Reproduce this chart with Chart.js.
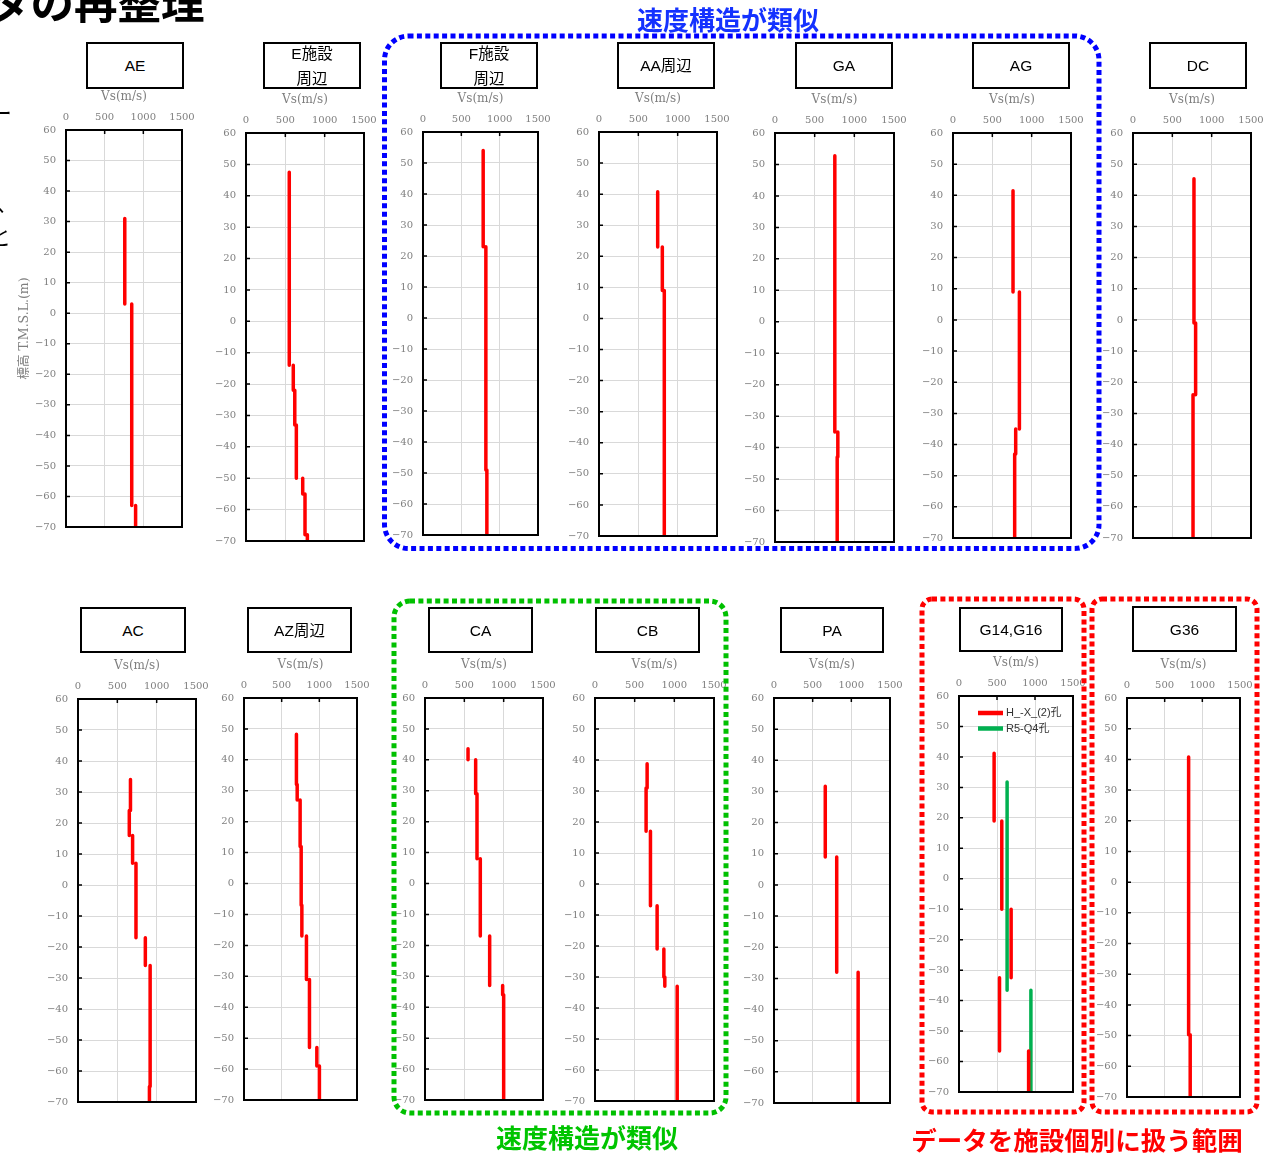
<!DOCTYPE html>
<html><head><meta charset="utf-8">
<script src="https://cdn.jsdelivr.net/npm/chart.js@4"></script>
<style>
html,body{margin:0;padding:0;background:#fff;}
body{width:1274px;height:1154px;overflow:hidden;position:relative;font-family:"Liberation Sans",Arial,"Noto Sans CJK JP",sans-serif;}
canvas{position:absolute;}
.box{position:absolute;border:2.5px solid #000;box-sizing:border-box;background:#fff;display:flex;flex-direction:column;align-items:center;justify-content:center;font-size:15.5px;color:#000;line-height:25px;z-index:2;}
.note{position:absolute;font-family:"Noto Sans CJK JP",sans-serif;font-weight:700;white-space:nowrap;line-height:1;z-index:3;}
svg{position:absolute;left:0;top:0;z-index:1;pointer-events:none;}
</style></head>
<body>
<div class="note" style="left:-100px;top:-21px;font-size:43.5px;color:#000;">データの再整理</div>
<div class="note" style="left:-12px;top:100px;font-size:24px;color:#000;font-weight:400;">ー</div>
<div class="note" style="left:-4px;top:190px;font-size:22px;color:#000;font-weight:400;">、</div>
<div class="note" style="left:-11px;top:224px;font-size:22px;color:#000;font-weight:400;">と</div>
<div class="note" style="left:628px;top:6px;width:200px;text-align:center;font-size:26px;color:#1432ff;">速度構造が類似</div>
<div class="note" style="left:487px;top:1124px;width:200px;text-align:center;font-size:26px;color:#00c400;">速度構造が類似</div>
<div class="note" style="left:902px;top:1126px;width:350px;text-align:center;font-size:25.5px;color:#ff0000;">データを施設個別に扱う範囲</div>
<svg width="1274" height="1154">
<rect x="384.5" y="36" width="714.5" height="512.5" rx="24" fill="none" stroke="#0000ff" stroke-width="5" stroke-dasharray="5 3.4"/>
<rect x="394" y="601" width="332" height="512" rx="16" fill="none" stroke="#00c000" stroke-width="5" stroke-dasharray="5 3.4"/>
<rect x="922" y="599" width="162" height="513" rx="10" fill="none" stroke="#ff0000" stroke-width="5" stroke-dasharray="5 3.4"/>
<rect x="1092" y="599" width="165" height="513" rx="10" fill="none" stroke="#ff0000" stroke-width="5" stroke-dasharray="5 3.4"/>
</svg>
<script>
// ---- tick labels ----
const xTickValues = [0, 500, 1000, 1500];
const yTickValues = [60, 50, 40, 30, 20, 10, 0, -10, -20, -30, -40, -50, -60, -70];

// ---- profiles: layer boundary elevations (m) and Vs of each layer (m/s) ----
const AE_elev = [31, 3, -63, -70];
const AE_vs   = [760, 850, 900];

const E_elev = [47.5, -14, -22, -33, -50, -55, -68, -70];
const E_vs   = [550, 601, 620, 640, 721, 750, 780];

const F_elev = [54, 23, -49, -70];
const F_vs   = [785, 820, 833];

const AA_elev = [40.8, 23, 9, -70];
const AA_vs   = [746, 805, 830];

const GA_elev = [52.8, -35, -43, -70];
const GA_vs   = [754, 792, 784];

const AG_elev = [41.5, 9, -35, -43, -70];
const AG_vs   = [763, 844, 797, 784];

const DC_elev = [45.3, -1, -24, -70];
const DC_vs   = [775, 796, 763];

const AC_elev = [34, 24, 16, 7, -17, -26, -65, -70];
const AC_vs   = [667, 652, 694, 737, 856, 917, 908];

const AZ_elev = [48.3, 32, 27, 12, -7, -17, -31, -53, -59, -70];
const AZ_vs   = [696, 706, 745, 759, 768, 829, 869, 967, 1001];

const CA_elev = [43.6, 40, 29, 8, -17, -33, -36, -70];
const CA_vs   = [547, 644, 661, 703, 822, 987, 1000];

const CB_elev = [38.8, 31, 17, -7, -21, -30, -33, -70];
const CB_vs   = [657, 644, 699, 783, 868, 880, 1036];

const PA_elev = [31.7, 9, -28, -70];
const PA_vs   = [663, 811, 1088];

const HX_elev = [41.2, 19, -10, -32.5, -56.5, -70];   // H_-X_(2)孔
const HX_vs   = [462, 563, 686, 533, 916];
const RQ_elev = [31.8, -36.6, -70];                   // R5-Q4孔
const RQ_vs   = [633, 946];

const G36_elev = [40.8, -49.7, -70];
const G36_vs   = [818, 839];

// ---- layout of panels ----
const RED = '#ff0000', GREEN = '#00b050';
const panels = [
  {title:['AE'], box:[86,42,98,47], plot:[66,130,182,527], yw:52, yTitle:'標高 T.M.S.L.(m)', series:[{label:'AE', elev:AE_elev, vs:AE_vs, color:RED}]},
  {title:['E施設','周辺'], box:[263,42,98,47], plot:[246,133,364,541], series:[{label:'E施設周辺', elev:E_elev, vs:E_vs, color:RED}]},
  {title:['F施設','周辺'], box:[440,42,98,47], plot:[423,132,538,535], series:[{label:'F施設周辺', elev:F_elev, vs:F_vs, color:RED}]},
  {title:['AA周辺'], box:[617,42,98,47], plot:[599,132,717,536], series:[{label:'AA周辺', elev:AA_elev, vs:AA_vs, color:RED}]},
  {title:['GA'], box:[795,42,98,47], plot:[775,133,894,542], series:[{label:'GA', elev:GA_elev, vs:GA_vs, color:RED}]},
  {title:['AG'], box:[972,42,98,47], plot:[953,133,1071,538], series:[{label:'AG', elev:AG_elev, vs:AG_vs, color:RED}]},
  {title:['DC'], box:[1149,42,98,47], plot:[1133,133,1251,538], series:[{label:'DC', elev:DC_elev, vs:DC_vs, color:RED}]},
  {title:['AC'], box:[80,607,106,46], plot:[78,699,196,1102], series:[{label:'AC', elev:AC_elev, vs:AC_vs, color:RED}]},
  {title:['AZ周辺'], box:[247,607,105,46], plot:[244,698,357,1100], series:[{label:'AZ周辺', elev:AZ_elev, vs:AZ_vs, color:RED}]},
  {title:['CA'], box:[428,607,105,46], plot:[425,698,543,1100], series:[{label:'CA', elev:CA_elev, vs:CA_vs, color:RED}]},
  {title:['CB'], box:[595,607,105,46], plot:[595,698,714,1101], series:[{label:'CB', elev:CB_elev, vs:CB_vs, color:RED}]},
  {title:['PA'], box:[780,607,104,46], plot:[774,698,890,1103], series:[{label:'PA', elev:PA_elev, vs:PA_vs, color:RED}]},
  {title:['G14,G16'], box:[959,607,104,45], plot:[959,696,1073,1092], legend:true,
    series:[{label:'H_-X_(2)孔', elev:HX_elev, vs:HX_vs, color:RED},{label:'R5-Q4孔', elev:RQ_elev, vs:RQ_vs, color:GREEN}]},
  {title:['G36'], box:[1132,606,105,46], plot:[1127,698,1240,1097], series:[{label:'G36', elev:G36_elev, vs:G36_vs, color:RED}]},
];

function segments(elev, vs){
  const pts = [];
  for (let i = 0; i < vs.length; i++){
    pts.push({x:vs[i], y:elev[i]});
    pts.push({x:vs[i], y:elev[i+1]});
    pts.push({x:vs[i], y:null});
  }
  return pts;
}

const frame = {
  id:'frame',
  afterDraw(chart){
    const {ctx, chartArea:a, scales} = chart;
    ctx.save();
    ctx.strokeStyle = '#000';
    ctx.lineWidth = 1.5;
    ctx.beginPath();
    scales.x.ticks.forEach(t => { const p = scales.x.getPixelForValue(t.value); ctx.moveTo(p, a.top); ctx.lineTo(p, a.top + 4); });
    scales.y.ticks.forEach(t => { const p = scales.y.getPixelForValue(t.value); ctx.moveTo(a.left, p); ctx.lineTo(a.left + 4, p); });
    ctx.stroke();
    ctx.lineWidth = 2;
    ctx.strokeRect(a.left, a.top, a.right - a.left, a.bottom - a.top);
    ctx.restore();
  }
};

const insideLegend = {
  id:'insideLegend',
  afterDraw(chart){
    const {ctx, chartArea:a} = chart;
    ctx.save();
    chart.data.datasets.forEach((ds, i) => {
      const y = a.top + 17 + i * 15.5;
      ctx.strokeStyle = ds.borderColor;
      ctx.lineWidth = 4.5;
      ctx.beginPath(); ctx.moveTo(a.left + 19, y); ctx.lineTo(a.left + 44, y); ctx.stroke();
      ctx.fillStyle = '#333';
      ctx.font = '11px "Liberation Sans", Arial, "Noto Sans CJK JP", sans-serif';
      ctx.textBaseline = 'middle';
      ctx.fillText(ds.label, a.left + 47, y);
    });
    ctx.restore();
  }
};

const GRAY = '#7f7f7f';
const TOPH = 45, PADR = 32, PADB = 22;

panels.forEach(p => {
  const [L, T, R, B] = p.plot;
  const yw = p.yw || 50;
  // title box
  const bx = document.createElement('div');
  bx.className = 'box';
  bx.style.left = p.box[0] + 'px'; bx.style.top = p.box[1] + 'px';
  bx.style.width = p.box[2] + 'px'; bx.style.height = p.box[3] + 'px';
  p.title.forEach(t => { const s = document.createElement('div'); s.textContent = t; bx.appendChild(s); });
  document.body.appendChild(bx);
  // canvas
  const cv = document.createElement('canvas');
  const w = (R - L) + yw + PADR, h = (B - T) + TOPH + PADB;
  cv.width = w; cv.height = h;
  cv.style.width = w + 'px'; cv.style.height = h + 'px';
  cv.style.left = (L - yw) + 'px'; cv.style.top = (T - TOPH) + 'px';
  document.body.appendChild(cv);

  new Chart(cv, {
    type:'scatter',
    data:{datasets: p.series.map(s => ({
      label:s.label, data:segments(s.elev, s.vs), showLine:true, spanGaps:false,
      borderColor:s.color, backgroundColor:s.color, borderWidth:3.5, pointRadius:0,
      borderCapStyle:'round'
    }))},
    options:{
      responsive:false, animation:false, devicePixelRatio:1,
      layout:{padding:{left:0, top:0, right:PADR, bottom:PADB}},
      plugins:{legend:{display:false}, tooltip:{enabled:false}},
      scales:{
        x:{
          type:'linear', position:'top', min:0, max:1500,
          afterBuildTicks(s){ s.ticks = xTickValues.map(v => ({value:v})); },
          ticks:{color:GRAY, font:{family:'"DejaVu Serif"', size:10}, padding:7, maxRotation:0, autoSkip:false,
                 callback:v => String(v)},
          grid:{color:'#d9d9d9', lineWidth:1, drawTicks:false},
          border:{display:false},
          title:{display:true, text:'Vs(m/s)', color:GRAY, font:{family:'"DejaVu Serif"', size:12}, padding:{top:5, bottom:0}},
          afterFit(s){ s.height = TOPH; }
        },
        y:{
          type:'linear', position:'left', min:-70, max:60,
          afterBuildTicks(s){ s.ticks = yTickValues.map(v => ({value:v})); },
          ticks:{color:GRAY, font:{family:'"DejaVu Serif"', size:10}, padding:10, autoSkip:false,
                 callback:v => v < 0 ? '\u2212' + Math.abs(v) : String(v)},
          grid:{color:'#d9d9d9', lineWidth:1, drawTicks:false},
          border:{display:false},
          title:{display:!!p.yTitle, text:p.yTitle || '', color:GRAY, font:{family:'"DejaVu Serif", "Noto Sans CJK JP"', size:12.5}, padding:{top:3, bottom:0}},
          afterFit(s){ s.width = yw; }
        }
      }
    },
    plugins: p.legend ? [frame, insideLegend] : [frame]
  });
});
</script>
</body></html>
